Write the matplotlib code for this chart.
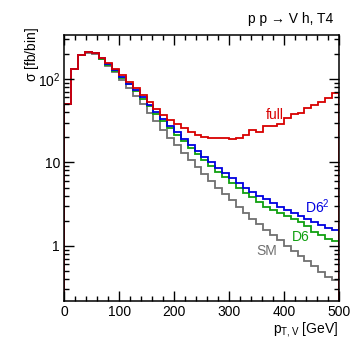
import numpy as np
import matplotlib
matplotlib.use('Agg')
from matplotlib import pyplot as plt
from matplotlib.ticker import FixedLocator, NullFormatter, LogLocator, MultipleLocator

plt.rcParams['font.family'] = ['Liberation Sans', 'DejaVu Sans']
plt.rcParams['mathtext.fontset'] = 'custom'
plt.rcParams['mathtext.rm'] = 'Liberation Sans'
plt.rcParams['mathtext.it'] = 'Liberation Sans'

# 40 bins of 12.5 GeV
edges = np.linspace(0, 500, 41)

full = [50, 133, 193, 209, 203, 178, 154, 132, 112, 93,
        77, 64, 53, 44, 37, 32, 28.5, 25.5, 23, 21.5,
        20.3, 19.7, 19.7, 19.5, 19.3, 19.5, 21.4, 24.5, 23.3, 27.4,
        27.4, 28.7, 33.8, 37.8, 39.5, 44.6, 48.8, 53.5, 59.7, 67.4]
d6sq = [50, 133, 193, 209, 203, 177, 150, 127, 106, 88,
        73, 60, 49, 40, 33, 27.5, 23, 19.3, 16.2, 13.7,
        11.7, 10.0, 8.6, 7.5, 6.5, 5.7, 5.0, 4.45, 4.0, 3.6,
        3.25, 2.95, 2.7, 2.5, 2.3, 2.1, 1.92, 1.77, 1.65, 1.55]
d6 = [50, 133, 193, 209, 203, 176, 149, 125, 104, 86,
      71, 58, 47.5, 38.5, 31.5, 26, 21.5, 18, 15, 12.6,
      10.6, 9.0, 7.7, 6.6, 5.7, 4.9, 4.3, 3.8, 3.35, 2.95,
      2.7, 2.45, 2.25, 2.08, 1.95, 1.72, 1.48, 1.33, 1.22, 1.13]
sm = [50, 132, 192, 207, 200, 172, 145, 120, 98, 79,
      63, 50, 39.5, 31, 24.5, 19.7, 16, 13, 10.7, 8.8,
      7.3, 6.0, 5.0, 4.2, 3.5, 2.95, 2.5, 2.12, 1.82, 1.56,
      1.35, 1.16, 1.0, 0.87, 0.76, 0.66, 0.57, 0.49, 0.42, 0.385]

c_full = '#d80000'
c_d6sq = '#0000e0'
c_d6 = '#10a010'
c_sm = '#707070'

fig = plt.figure(figsize=(3.57, 3.5), dpi=100)
ax = fig.add_axes([0.180, 0.141, 0.7687, 0.760])

ax.stairs(sm, edges, color=c_sm, lw=1.3)
ax.stairs(d6, edges, color=c_d6, lw=1.3)
ax.stairs(d6sq, edges, color=c_d6sq, lw=1.3)
ax.stairs(full, edges, color=c_full, lw=1.3)

ax.set_yscale('log')
ax.set_xlim(0, 500)
ax.set_ylim(0.22, 340)

ax.xaxis.set_major_locator(MultipleLocator(100))
ax.xaxis.set_minor_locator(MultipleLocator(20))
ax.yaxis.set_major_locator(FixedLocator([1, 10, 100]))
ax.yaxis.set_minor_locator(LogLocator(base=10, subs=np.arange(2, 10)))
ax.yaxis.set_minor_formatter(NullFormatter())
ax.set_yticklabels(['1', '10', r'$10^2$'])

ax.tick_params(which='both', direction='in', top=True, right=True, labelsize=10, pad=3)
ax.tick_params(which='major', length=7, width=1)
ax.tick_params(which='minor', length=3.5, width=1)
for s in ax.spines.values():
    s.set_linewidth(1.1)

# line labels
ax.text(383, 36.6, 'full', color=c_full, fontsize=10, ha='center', va='center')
ax.text(438, 2.5, r'D6$^2$', color=c_d6sq, fontsize=10, ha='left', va='baseline')
ax.text(415, 1.15, 'D6', color=c_d6, fontsize=10, ha='left', va='baseline')
ax.text(350, 0.78, 'SM', color=c_sm, fontsize=10, ha='left', va='baseline')

fig.text(32 / 357, 1 - 27 / 350, r'$\sigma$ [fb/bin]', rotation=90, ha='center', va='top', fontsize=10)
fig.text(338.7 / 357, 1 - 333 / 350, r'p$_{\mathregular{T,V}}$ [GeV]', ha='right', va='baseline', fontsize=10)
fig.text(333 / 357, 1 - 19 / 350, 'p p \u2192 V h, T4', ha='right', va='center', fontsize=10)

fig.savefig('out.png', dpi=100)
